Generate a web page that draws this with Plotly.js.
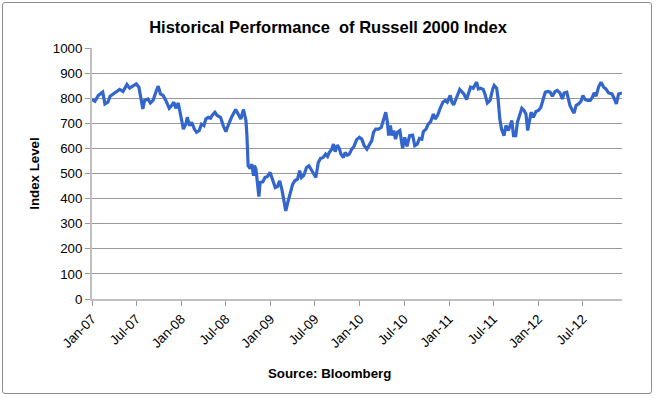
<!DOCTYPE html>
<html>
<head>
<meta charset="utf-8">
<script src="https://cdn.plot.ly/plotly-3.0.1.min.js"></script>
<style>
html,body{margin:0;padding:0;background:#fff;}
#wrap{position:relative;width:656px;height:398px;}
#chart{width:656px;height:398px;}
#frame{position:absolute;left:2px;top:2px;width:648px;height:390px;border:1px solid #8c8c8c;border-radius:3px;pointer-events:none;}
</style>
</head>
<body>
<div id="wrap"><div id="chart"></div><div id="frame"></div></div>
<script>
const dates = [
"2007-01-01","2007-01-13","2007-01-27","2007-02-14","2007-02-23","2007-03-07","2007-03-16","2007-04-04","2007-04-24","2007-05-08",
"2007-05-24","2007-06-04","2007-06-18","2007-07-01","2007-07-12","2007-07-22","2007-07-28","2007-08-04","2007-08-18","2007-08-28",
"2007-09-08","2007-09-19","2007-09-29","2007-10-08","2007-10-19","2007-10-30","2007-11-13","2007-11-23","2007-12-02","2007-12-10",
"2007-12-20","2007-12-30","2008-01-10","2008-01-20","2008-01-26","2008-02-04","2008-02-13","2008-02-24","2008-03-04","2008-03-15",
"2008-03-24","2008-04-03","2008-04-11","2008-04-21","2008-04-30","2008-05-08","2008-05-18","2008-05-27","2008-06-10","2008-06-21",
"2008-07-02","2008-07-11","2008-07-25","2008-08-11","2008-08-22","2008-09-01","2008-09-12","2008-09-22","2008-09-26","2008-10-01",
"2008-10-09","2008-10-16","2008-10-23","2008-10-27","2008-11-02","2008-11-08","2008-11-14","2008-11-19","2008-11-30","2008-12-09",
"2008-12-19","2008-12-30","2009-01-10","2009-01-20","2009-01-29","2009-02-07","2009-02-16","2009-02-23","2009-03-04","2009-03-12",
"2009-03-21","2009-04-01","2009-04-10","2009-04-21","2009-04-30","2009-05-07","2009-05-17","2009-05-28","2009-06-07","2009-06-18",
"2009-06-27","2009-07-05","2009-07-15","2009-07-24","2009-08-04","2009-08-14","2009-08-22","2009-08-29","2009-09-08","2009-09-15",
"2009-09-22","2009-10-01","2009-10-09","2009-10-16","2009-10-26","2009-11-02","2009-11-11","2009-11-19","2009-11-29","2009-12-08",
"2009-12-19","2009-12-30","2010-01-09","2010-01-19","2010-01-30","2010-02-10","2010-02-19","2010-02-26","2010-03-07","2010-03-19",
"2010-03-30","2010-04-09","2010-04-17","2010-04-24","2010-04-29","2010-05-06","2010-05-13","2010-05-20","2010-05-27","2010-06-04",
"2010-06-14","2010-06-25","2010-07-04","2010-07-13","2010-07-24","2010-08-05","2010-08-14","2010-08-24","2010-09-02","2010-09-12",
"2010-09-18","2010-09-29","2010-10-08","2010-10-18","2010-10-29","2010-11-05","2010-11-15","2010-11-26","2010-12-07","2010-12-16",
"2010-12-25","2011-01-06","2011-01-13","2011-01-20","2011-01-30","2011-02-06","2011-02-14","2011-02-24","2011-03-03","2011-03-14",
"2011-03-23","2011-03-30","2011-04-10","2011-04-17","2011-04-24","2011-05-01","2011-05-10","2011-05-21","2011-05-28","2011-06-07",
"2011-06-18","2011-06-29","2011-07-05","2011-07-15","2011-07-21","2011-07-28","2011-08-04","2011-08-14","2011-08-22","2011-09-01",
"2011-09-08","2011-09-15","2011-09-22","2011-10-01","2011-10-08","2011-10-16","2011-10-26","2011-11-04","2011-11-12","2011-11-19",
"2011-11-26","2011-12-03","2011-12-12","2011-12-23","2012-01-02","2012-01-12","2012-01-20","2012-01-30","2012-02-08","2012-02-19",
"2012-02-28","2012-03-10","2012-03-19","2012-03-30","2012-04-09","2012-04-16","2012-04-27","2012-05-03","2012-05-10","2012-05-20",
"2012-05-27","2012-06-04","2012-06-14","2012-06-24","2012-07-02","2012-07-11","2012-07-21","2012-08-01","2012-08-10","2012-08-17",
"2012-08-25","2012-09-04","2012-09-14","2012-09-25","2012-10-04","2012-10-15","2012-10-29","2012-11-08","2012-11-16","2012-11-25",
"2012-12-09"
];
const indexLevel = [
795,788,811,824,777,784,808,821,835,827,
855,840,848,857,844,784,757,791,797,781,
791,824,848,817,811,791,760,771,784,760,
781,731,677,697,724,691,704,677,664,671,
697,691,717,724,720,733,744,731,724,691,
667,691,724,755,737,717,755,711,651,531,
520,537,491,531,517,464,408,464,467,484,
488,504,477,444,448,471,437,391,351,384,
413,457,471,477,511,484,493,524,531,511,
497,484,544,560,564,577,568,584,597,617,
587,613,600,577,564,584,573,577,597,608,
635,644,637,611,597,613,631,664,677,677,
684,717,744,704,651,691,651,671,637,664,
671,600,644,608,651,653,611,617,640,637,
667,677,697,707,737,717,731,760,784,791,
784,811,784,773,797,817,835,824,817,795,
827,844,840,851,864,837,840,835,817,781,
791,837,851,840,797,717,677,651,691,671,
691,711,651,651,704,731,760,751,737,671,
717,744,724,747,751,764,791,824,827,824,
808,827,831,821,797,821,824,797,771,751,
741,771,777,787,811,795,791,791,804,821,
808,844,864,844,837,821,817,797,777,817,
821
];
const tickDates = ["2007-01-01","2007-07-01","2008-01-01","2008-07-01","2009-01-01","2009-07-01","2010-01-01","2010-07-01","2011-01-01","2011-07-01","2012-01-01","2012-07-01"];
const tickLabels = ["Jan-07","Jul-07","Jan-08","Jul-08","Jan-09","Jul-09","Jan-10","Jul-10","Jan-11","Jul-11","Jan-12","Jul-12"];
const yTicks = [0,100,200,300,400,500,600,700,800,900,1000];

const font = "Liberation Sans, Arial, sans-serif";
Plotly.newPlot('chart', [{
  x: dates, y: indexLevel, type: 'scatter', mode: 'lines',
  line: {color: '#3366cc', width: 3.2},
  hoverinfo: 'skip'
}], {
  width: 656, height: 398,
  margin: {l: 92, r: 34, t: 48, b: 99},
  paper_bgcolor: '#fff', plot_bgcolor: '#fff',
  showlegend: false,
  title: {text: '<b>Historical Performance\u00a0 of Russell 2000 Index</b>', font: {family: font, size: 16.5, color: '#000'}, x: 0.5, xanchor: 'center', y: 0.932, yanchor: 'middle', xref: 'container'},
  xaxis: {
    type: 'date', range: [dates[0], dates[dates.length-1]],
    tickmode: 'array', tickvals: tickDates, ticktext: tickLabels, tickangle: -45,
    ticks: 'outside', ticklen: 5, tickcolor: '#999', tickfont: {family: font, size: 13.3, color: '#000'},
    showgrid: false, showline: true, linecolor: '#c0c0c0', linewidth: 2, zeroline: false
  },
  yaxis: {
    range: [0, 1000], tickmode: 'array', tickvals: yTicks,
    ticks: 'outside', ticklen: 5, tickcolor: '#999', tickfont: {family: font, size: 13.3, color: '#000'},
    showgrid: true, gridcolor: '#999', gridwidth: 1,
    showline: true, linecolor: '#c0c0c0', linewidth: 2, zeroline: false,
    title: {text: '<b>Index Level</b>', font: {family: font, size: 13.3, color: '#000'}, standoff: 10}
  },
  annotations: [{
    text: '<b>Source: Bloomberg</b>', font: {family: font, size: 13.3, color: '#000'},
    xref: 'paper', yref: 'paper', x: 0.448, y: -0.295, xanchor: 'center', yanchor: 'middle', showarrow: false
  }]
}, {staticPlot: true, displayModeBar: false});
</script>
</body>
</html>
